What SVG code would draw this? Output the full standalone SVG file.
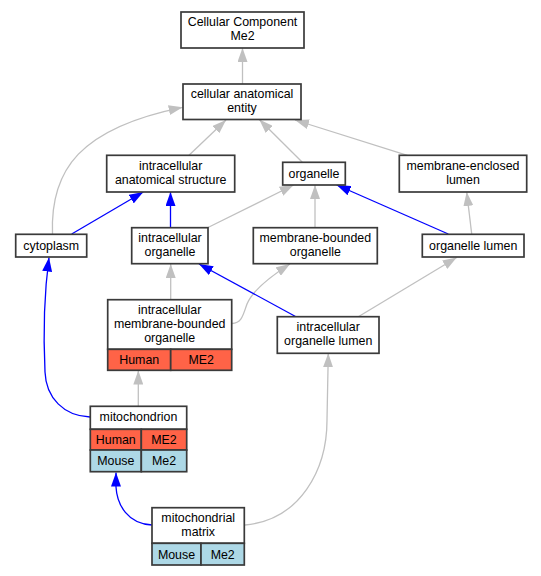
<svg xmlns="http://www.w3.org/2000/svg" width="541" height="576" viewBox="0 0 541 576">
<style>
  text { font-family: "Liberation Sans", Arial, sans-serif; font-size: 12.4px; fill: #000; text-anchor: middle; }
  .box { fill: #fff; stroke: #3a3a3a; stroke-width: 1.7; }
  .hum { fill: #ff6347; stroke: #3a3a3a; stroke-width: 1.7; }
  .mou { fill: #add8e6; stroke: #3a3a3a; stroke-width: 1.7; }
  .g { fill: none; stroke: #c0c0c0; stroke-width: 1.3; marker-end: url(#ag); }
  .b { fill: none; stroke: #0000ff; stroke-width: 1.3; marker-end: url(#ab); }
</style>
<defs>
  <marker id="ag" markerUnits="userSpaceOnUse" markerWidth="14" markerHeight="10" refX="14" refY="5" orient="auto" viewBox="0 0 14 10">
    <path d="M0,0 L14,5 L0,10 z" fill="#c0c0c0"/>
  </marker>
  <marker id="ab" markerUnits="userSpaceOnUse" markerWidth="14" markerHeight="10" refX="14" refY="5" orient="auto" viewBox="0 0 14 10">
    <path d="M0,0 L14,5 L0,10 z" fill="#0000ff"/>
  </marker>
</defs>
<rect width="541" height="576" fill="#fff"/>
<g id="edges">
  <path class="g" d="M242.5,84 L242.5,48"/>
  <path class="g" d="M189,155.3 L226,120"/>
  <path class="g" d="M302.3,162.3 L259.3,119.5"/>
  <path class="g" d="M407.3,155.3 L295,120"/>
  <path class="g" d="M52.5,234 C50,170 80,128 182.7,107.3"/>
  <path class="b" d="M71.7,234 L143.3,192"/>
  <path class="b" d="M170.5,228 L170.5,192"/>
  <path class="g" d="M208,227.5 L293.6,185"/>
  <path class="g" d="M315,228 L315,185"/>
  <path class="b" d="M448.3,234 L336.7,185"/>
  <path class="g" d="M471.7,234 L466.7,192"/>
  <path class="g" d="M170.7,299.7 L170.7,264"/>
  <path class="g" d="M232,323.5 C242,323 243,315 247,304 C252,292 268,278 290,264"/>
  <path class="b" d="M296,316.7 L199,264"/>
  <path class="g" d="M358.3,316.7 L456.7,257.5"/>
  <path class="g" d="M138.3,406.3 L138.3,370.5"/>
  <path class="b" d="M90,417 C64,416 46,398 45,372 C43,330 44,295 49,257.5"/>
  <path class="b" d="M152,525 C128,524 117,505 116,487 L116,472.5"/>
  <path class="g" d="M245,525 C300,520 327,470 327,420 L328.3,353.3"/>
</g>
<g id="n_cc">
  <rect class="box" x="181" y="12" width="123" height="36"/>
  <text x="242.5" y="25.5">Cellular Component</text>
  <text x="242.5" y="39.5">Me2</text>
</g>
<g id="n_cae">
  <rect class="box" x="183" y="84" width="118" height="35.5"/>
  <text x="242" y="97.9">cellular anatomical</text>
  <text x="242" y="111.9">entity</text>
</g>
<g id="n_ias">
  <rect class="box" x="106.7" y="155.3" width="128" height="36.7"/>
  <text x="170.7" y="169.6">intracellular</text>
  <text x="170.7" y="183.6">anatomical structure</text>
</g>
<g id="n_org">
  <rect class="box" x="282.7" y="162.3" width="62.6" height="22.7"/>
  <text x="314" y="178">organelle</text>
</g>
<g id="n_mel">
  <rect class="box" x="399.3" y="155.3" width="127.4" height="36.7"/>
  <text x="463" y="169.6">membrane-enclosed</text>
  <text x="463" y="183.6">lumen</text>
</g>
<g id="n_cyt">
  <rect class="box" x="15.7" y="234.3" width="71" height="22.7"/>
  <text x="51.2" y="249.5">cytoplasm</text>
</g>
<g id="n_io">
  <rect class="box" x="131.7" y="227.7" width="76.3" height="36"/>
  <text x="170" y="241.6">intracellular</text>
  <text x="170" y="255.6">organelle</text>
</g>
<g id="n_mbo">
  <rect class="box" x="253.3" y="227.7" width="124" height="36"/>
  <text x="315.3" y="241.6">membrane-bounded</text>
  <text x="315.3" y="255.6">organelle</text>
</g>
<g id="n_ol">
  <rect class="box" x="422.3" y="234.3" width="101.7" height="22.7"/>
  <text x="473.2" y="250">organelle lumen</text>
</g>
<g id="n_imbo">
  <rect class="box" x="107.7" y="299.7" width="124" height="49.6"/>
  <rect class="hum" x="107.7" y="349.3" width="63" height="21"/>
  <rect class="hum" x="170.7" y="349.3" width="61" height="21"/>
  <text x="169.7" y="313.6">intracellular</text>
  <text x="169.7" y="327.6">membrane-bounded</text>
  <text x="169.7" y="341.6">organelle</text>
  <text x="139.2" y="364">Human</text>
  <text x="201.2" y="364">ME2</text>
</g>
<g id="n_iol">
  <rect class="box" x="277.3" y="316.7" width="101.7" height="36.6"/>
  <text x="328.2" y="330.9">intracellular</text>
  <text x="328.2" y="344.9">organelle lumen</text>
</g>
<g id="n_mito">
  <rect class="box" x="90.3" y="406.3" width="96.4" height="23"/>
  <rect class="hum" x="90.3" y="429.3" width="51" height="20.7"/>
  <rect class="hum" x="141.3" y="429.3" width="45.4" height="20.7"/>
  <rect class="mou" x="90.3" y="450" width="51" height="21.7"/>
  <rect class="mou" x="141.3" y="450" width="45.4" height="21.7"/>
  <text x="138.5" y="421">mitochondrion</text>
  <text x="115.8" y="444">Human</text>
  <text x="164" y="444">ME2</text>
  <text x="115.8" y="465.3">Mouse</text>
  <text x="164" y="465.3">Me2</text>
</g>
<g id="n_mm">
  <rect class="box" x="152" y="507.7" width="92.3" height="35.6"/>
  <rect class="mou" x="152" y="543.3" width="49" height="21.7"/>
  <rect class="mou" x="201" y="543.3" width="43.3" height="21.7"/>
  <text x="198.2" y="521.6">mitochondrial</text>
  <text x="198.2" y="535.6">matrix</text>
  <text x="176.5" y="558.5">Mouse</text>
  <text x="222.7" y="558.5">Me2</text>
</g>
</svg>
